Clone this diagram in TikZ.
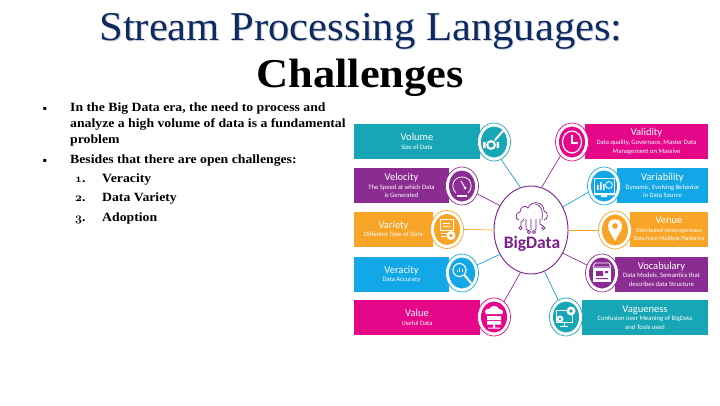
\documentclass[tikz,border=0pt]{standalone}
\usepackage{fontspec}
\usetikzlibrary{shapes.geometric}
\setmainfont{Liberation Serif}
\newfontfamily\titlefont[FakeStretch=1.04]{Liberation Serif}
\newfontfamily\chalfont[FakeStretch=1.085]{Liberation Serif}
\newfontfamily\bodyfont[FakeStretch=1.09]{Liberation Serif}
\newfontfamily\cardfont{Carlito}
\newfontfamily\bulletfont{DejaVu Sans}
\definecolor{navyt}{HTML}{0F2A60}
\definecolor{shadowt}{HTML}{C6D0E0}
\definecolor{tealc}{HTML}{17A6B6}
\definecolor{purpc}{HTML}{8B2C92}
\definecolor{orngc}{HTML}{F8A427}
\definecolor{bluec}{HTML}{12A7E6}
\definecolor{magc}{HTML}{E6068A}
\definecolor{hubc}{HTML}{7A1F8C}
\newcommand\ttl[1]{{\fontsize{10.5}{11.5}\selectfont #1}}
\newcommand\onum[1]{{\usefont{OML}{cmm}{b}{it}#1}}
\newcommand\ringicon[4]{%
  \node[ringo,draw=#4] (#1) at (#2,#3) {};
  \node[ringi,fill=#4] (#1c) at (#2,#3) {};}
\tikzset{
  ringo/.style={ellipse,minimum width=33pt,minimum height=38pt,inner sep=0pt,fill=white,line width=.7pt},
  ringi/.style={ellipse,minimum width=26pt,minimum height=31pt,inner sep=0pt},
  band/.style={inner sep=0pt,text=white,align=center,minimum height=35pt,
     font=\cardfont\fontsize{6.6}{8.6}\selectfont},
  conn/.style={line width=.7pt},
  ttext/.style={anchor=base,inner sep=0pt,font=\titlefont\fontsize{41}{45}\selectfont},
  body/.style={anchor=base west,inner sep=0pt,font=\bodyfont\bfseries\fontsize{12.6}{15}\selectfont},
  bull/.style={anchor=base,inner sep=0pt,font=\bulletfont\fontsize{6}{8}\selectfont},
  ic/.style={white,line width=.8pt},
}
\begin{document}
\begin{tikzpicture}[x=1pt,y=-1pt]
\useasboundingbox (0,0) rectangle (720,405);
% titles
\node[ttext,text=shadowt] (titleshadow) at (362,41.2) {Stream Processing Languages:};
\node[ttext,text=navyt] (title) at (361,40) {Stream Processing Languages:};
\node[ttext,font=\chalfont\bfseries\fontsize{41}{45}\selectfont] (title2) at (360,87) {Challenges};
% body
\node[bull] (b1) at (45,110) {▪};
\node[body] (l1) at (70,111) {In the Big Data era, the need to process and};
\node[body] (l2) at (70,127) {analyze a high volume of data is a fundamental};
\node[body] (l3) at (70,143) {problem};
\node[bull] (b2) at (45,162) {▪};
\node[body] (l4) at (70,163) {Besides that there are open challenges:};
\node[body] (n1) at (75,182) {\onum{1}.};
\node[body] (t1) at (102,182) {Veracity};
\node[body] (n2) at (75,201) {\onum{2}.};
\node[body] (t2) at (102,201) {Data Variety};
\node[body] (n3) at (75,221) {\onum{3}.};
\node[body] (t3) at (102,221) {Adoption};
% bands
\node[band,fill=tealc,minimum width=126pt] (volT) at (417,141.5) {\ttl{Volume}\\Size of Data};
\node[band,fill=purpc,minimum width=95pt] (velT) at (401.5,185.5) {\ttl{Velocity}\\The Speed at which Data\\is Generated};
\node[band,fill=orngc,minimum width=79pt] (varT) at (393.5,229.5) {\ttl{Variety}\\Different Type of Data};
\node[band,fill=bluec,minimum width=95pt] (verT) at (401.5,274.5) {\ttl{Veracity}\\Data Accuracy};
\node[band,fill=magc,minimum width=126pt] (valT) at (417,317.5) {\ttl{Value}\\Useful Data};
\node[band,fill=magc,minimum width=123pt] (vldT) at (646.5,141.5) {\ttl{Validity}\\Data quality, Governace, Master Data\\Management on Massive};
\node[band,fill=bluec,minimum width=91pt] (vrbT) at (662.5,185.5) {\ttl{Variability}\\Dynamic, Evolving Behavior\\in Data Source};
\node[band,fill=orngc,minimum width=78pt,font=\cardfont\fontsize{6}{8.4}\selectfont] (venT) at (669,229.5) {\ttl{Venue}\\Distributed Heterogeneous\\Data from Multiple Platforms};
\node[band,fill=purpc,minimum width=93pt] (vocT) at (661.5,274) {\ttl{Vocabulary}\\Data Models, Semantics that\\describes data Structure};
\node[band,fill=tealc,minimum width=126pt] (vagT) at (645,317.5) {\ttl{Vagueness}\\Confusion over Meaning of BigData\\and Tools used};
% rings
\ringicon{vol}{494}{142}{tealc}
\ringicon{vel}{462}{186}{purpc}
\ringicon{var}{447}{229.5}{orngc}
\ringicon{ver}{462}{273}{bluec}
\ringicon{val}{494}{317}{magc}
\ringicon{vld}{572}{142}{magc}
\ringicon{vrb}{604}{186}{bluec}
\ringicon{ven}{615}{230}{orngc}
\ringicon{voc}{602}{273}{purpc}
\ringicon{vag}{566}{317}{tealc}
% hub
\node[ellipse,minimum width=74pt,minimum height=88pt,inner sep=0pt,draw=hubc,line width=.9pt,fill=white] (hub) at (531,230) {};
\node[inner sep=0pt,text=hubc,font=\cardfont\bfseries\fontsize{17.5}{20}\selectfont] (hubtext) at (532,244) {BigData};
% connectors
\draw[conn,tealc] (hub.104) -- (vol.-68);
\draw[conn,purpc] (hub.142) -- (vel.-27);
\draw[conn,orngc] (hub.180) -- (var.0);
\draw[conn,bluec] (hub.218) -- (ver.28);
\draw[conn,purpc] (hub.256) -- (val.57);
\draw[conn,purpc] (hub.76) -- (vld.230);
\draw[conn,tealc] (hub.36) -- (vrb.202);
\draw[conn,orngc] (hub.0) -- (ven.180);
\draw[conn,purpc] (hub.-36) -- (voc.152);
\draw[conn,tealc] (hub.-72) -- (vag.115);
% hub cloud icon
\begin{scope}[hubc,line width=.7pt]
\draw (519,220) .. controls (515,220) and (515,212) .. (520,212)
  .. controls (520,206) and (526,205) .. (528,208)
  .. controls (531,200) and (544,201) .. (544,211)
  .. controls (549,212) and (548,220) .. (544,220);
\draw (535,204) .. controls (541,205) and (543,209) .. (542,220);
\draw (521,226.5) -- (521,222) -- (524,219) (526,219) -- (526,229) -- (529,231)
      (531,219) -- (531,229) -- (531,230) (536,219) -- (536,229) -- (535,230)
      (540,219) -- (540,224) -- (543,226);
\draw (520.5,228) circle[radius=1.6] (529,232) circle[radius=1.6] (534,232) circle[radius=1.6] (543.5,228) circle[radius=1.6];
\end{scope}
% icons
\begin{scope}[shift={(494,142)}]
\draw[white,line width=2pt,line cap=round] (1,-2) -- (9,-11);
\fill[white] (-3,3) circle[radius=5];
\fill[tealc] (-3,3) circle[radius=2.6];
\fill[white] (-11,0) rectangle (-8.5,6) (2.5,0) rectangle (5,6);
\end{scope}
\begin{scope}[shift={(462,186)}]
\draw[ic] (-6,7) .. controls (-12,1) and (-9,-9) .. (0,-9) .. controls (9,-9) and (12,1) .. (6,7);
\draw[ic,line width=1pt] (-1,-5) -- (3,2);
\fill[white] (-5,9) rectangle (5,10.5);
\fill[white] (3,2) circle[radius=1.5];
\end{scope}
\begin{scope}[shift={(447,229.5)}]
\draw[ic] (-7,-10) rectangle (6,1);
\draw[ic] (-4,-6) -- (3,-6) (-4,-3) -- (3,-3) (-6,4) -- (0,4) (-6,7) -- (-1,7);
\fill[white] (4,6) circle[radius=4.5];
\fill[orngc] (4,6) circle[radius=1.8];
\end{scope}
\begin{scope}[shift={(462,273)}]
\draw[ic,line width=1.1pt] (-2.5,-3) circle[radius=6.5];
\draw[white,line width=2pt,line cap=round] (2.5,2) -- (9,10);
\draw[ic] (-5,-1) -- (-5,-3) (-2.5,-1) -- (-2.5,-5) (0,-1) -- (0,-4);
\end{scope}
\begin{scope}[shift={(494,317)}]
\fill[white] (-8,-3) .. controls (-11,-6) and (-7,-9) .. (-5,-8) .. controls (-3,-12) and (4,-12) .. (5,-8)
  .. controls (9,-8) and (10,-4) .. (8,-3) -- cycle;
\fill[white] (-7,-1) rectangle (7,3) (-7,4) rectangle (7,7.5);
\fill[white] (-1,7.5) rectangle (1,10.5) (-6,10.5) rectangle (6,11.5);
\end{scope}
\begin{scope}[shift={(572,142)}]
\draw[ic,line width=1.2pt] (0,0) circle[x radius=9.5,y radius=11];
\draw[ic,line width=1.2pt] (0,-7) -- (0,1) -- (6,1);
\end{scope}
\begin{scope}[shift={(604,186)}]
\draw[ic] (-10,-8) rectangle (10,7);
\fill[white] (-10,7) rectangle (10,9) (-3,9) rectangle (3,11);
\fill[white] (-7,-1) rectangle (-5.5,4) (-4,-4) rectangle (-2.5,4) (-1,-2) rectangle (.5,4);
\draw[ic] (5,-1) circle[radius=3.5];
\end{scope}
\begin{scope}[shift={(615,230)}]
\fill[white,even odd rule] (0,11) .. controls (-3,5) and (-7,1) .. (-7,-4) .. controls (-7,-13) and (7,-13) .. (7,-4)
  .. controls (7,1) and (3,5) .. (0,11) -- cycle (0,-4) circle[radius=3];
\end{scope}
\begin{scope}[shift={(602,273)}]
\draw[ic] (-7,-10) -- (7,-10) -- (9,-6) -- (-9,-6) -- cycle;
\fill[white] (-9,-5) rectangle (9,9);
\fill[purpc] (-6,-2) rectangle (1,3) (3,-2) rectangle (6,0) (-6,5) rectangle (6,6);
\end{scope}
\begin{scope}[shift={(566,317)}]
\draw[ic] (-10,-7) rectangle (6,5);
\draw[ic] (-2,5) -- (-2,9) (-6,9) -- (2,9);
\fill[white] (5,-6) circle[radius=4.5];
\fill[tealc] (5,-6) circle[radius=1.8];
\fill[white] (-6,2) circle[radius=3.5];
\fill[tealc] (-6,2) circle[radius=1.4];
\end{scope}
\end{tikzpicture}
\end{document}
